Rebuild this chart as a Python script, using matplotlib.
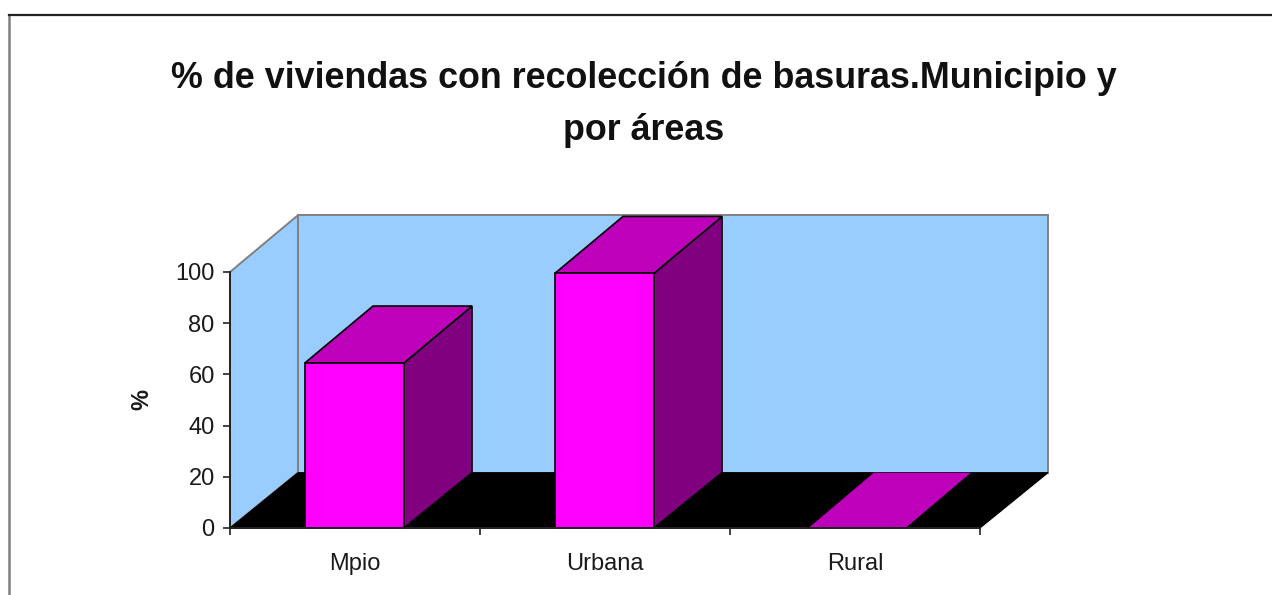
import matplotlib
matplotlib.use("Agg")
import matplotlib.pyplot as plt
from matplotlib.patches import Rectangle
from matplotlib.transforms import ScaledTranslation

plt.rcParams['font.family'] = ['Liberation Sans', 'DejaVu Sans']

# Data
categories = ['Mpio', 'Urbana', 'Rural']
values = [64.5, 99.5, 0]
y_ticks = [0, 20, 40, 60, 80, 100]
title_lines = ['% de viviendas con recolección de basuras.Municipio y', 'por áreas']
y_label = '%'

# Style
W, H = 1272, 595
WALL = '#99CCFF'
FLOOR = '#000000'
FRONT = '#FF00FF'
TOP = '#BF00BB'
SIDE = '#800080'
EDGE = '#808080'
INK = '#1a1a1a'
DX = 0.272      # depth, in category units
DY = 22.2       # depth at the top, in value units
DY_FLOOR = 21.6 # depth at the floor, in value units
BAR_W = 0.396

fig = plt.figure(figsize=(W / 100, H / 100), dpi=100, facecolor='white')
ax = fig.add_axes([230 / W, 1 - 528 / H, 750 / W, 256 / H])
ax.set_xlim(0, len(categories))
ax.set_ylim(0, 100)
ax.patch.set_visible(False)


def poly(xs, ys, fc, ec='none', lw=1.0, z=1):
    ax.fill(xs, ys, facecolor=fc, edgecolor=ec, linewidth=lw, clip_on=False,
            zorder=z, joinstyle='miter')


n = len(categories)
# walls and floor
poly([DX, n + DX, n + DX, DX], [DY_FLOOR, DY_FLOOR, 100 + DY, 100 + DY], WALL, EDGE, 1.4, 1)
poly([0, DX, DX, 0], [0, DY_FLOOR, 100 + DY, 100], WALL, EDGE, 1.4, 1)
poly([0, n, n + DX, DX], [0, 0, DY_FLOOR, DY_FLOOR], FLOOR, FLOOR, 0.8, 2)

# bars
for i, v in enumerate(values):
    w = BAR_W if v > 0 else BAR_W * 0.98
    x0 = i + 0.5 - BAR_W / 2 + (0.012 if v == 0 else -0.002)
    x1 = x0 + w
    dy = DY if v > 0 else DY_FLOOR
    dx = DX if v > 0 else DX * 0.96
    if v > 0:
        poly([x1, x1 + dx, x1 + dx, x1], [0, DY_FLOOR, v + dy, v], SIDE, 'black', 1.2, 3)
    poly([x0, x1, x1 + dx, x0 + dx], [v, v, v + dy, v + dy], TOP,
         'black' if v > 0 else 'none', 1.2, 3)
    if v > 0:
        ax.add_patch(Rectangle((x0, 0), w, v, facecolor=FRONT, edgecolor='black',
                               linewidth=1.2, clip_on=False, zorder=4))

# axes
for s in ('top', 'right'):
    ax.spines[s].set_visible(False)
for s in ('left', 'bottom'):
    ax.spines[s].set_color('#222222')
    ax.spines[s].set_linewidth(1.4)
    ax.spines[s].set_zorder(6)
ax.set_yticks(y_ticks)
ax.set_xticks(range(n + 1))
ax.set_xticklabels([])
ax.set_xticks([i + 0.5 for i in range(n)], minor=True)
ax.set_xticklabels(categories, minor=True, fontsize=17, color=INK)
shift = ScaledTranslation(-2 / 100, 0, fig.dpi_scale_trans)
for lab in ax.get_xticklabels(minor=True):
    lab.set_transform(lab.get_transform() + shift)
ax.tick_params(axis='x', which='minor', length=0, pad=18)
ax.tick_params(axis='x', which='major', length=5, width=1.2, color='#222222')
ax.tick_params(axis='y', length=5, width=1.2, color='#222222', labelsize=17,
               labelcolor=INK, pad=6)
fig.text(142 / W, 1 - 400 / H, y_label, rotation=90, ha='center', va='center',
         fontsize=17, fontweight='bold', color=INK)

fig.text(644 / W, 1 - 78 / H, title_lines[0], ha='center', va='center',
         fontsize=25.8, fontweight='bold', color='#111111')
fig.text(644 / W, 1 - 130 / H, title_lines[1], ha='center', va='center',
         fontsize=25.8, fontweight='bold', color='#111111')

# picture frame
fig.add_artist(plt.Line2D([9 / W, 9 / W], [0, 1 - 15 / H], color='#808080', linewidth=1.8))
fig.add_artist(plt.Line2D([9 / W, 1], [1 - 15 / H, 1 - 15 / H], color='#222222', linewidth=1.6))

fig.savefig('out.png', dpi=100)
